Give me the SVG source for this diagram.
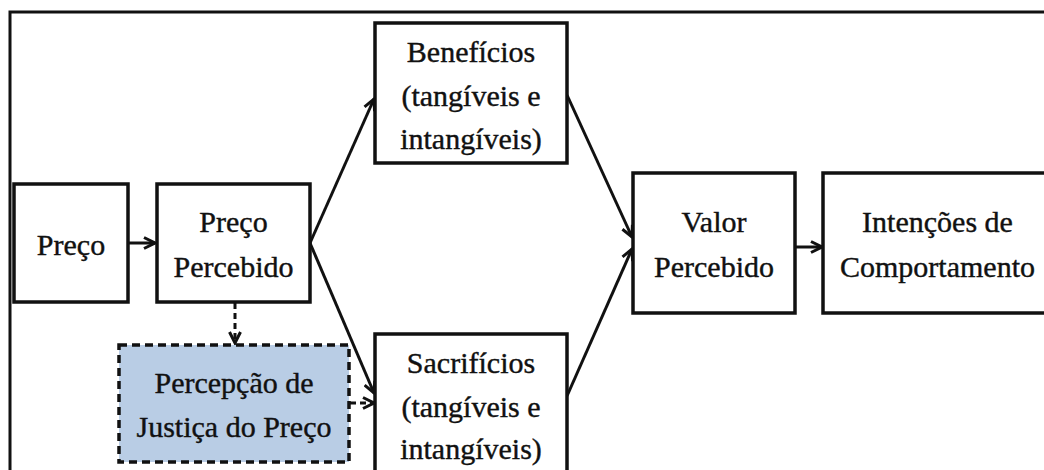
<svg xmlns="http://www.w3.org/2000/svg" width="1044" height="470" viewBox="0 0 1044 470">
<defs>
<style>
.box{fill:#fff;stroke:#111;stroke-width:3.5}
.dash{fill:#b9cde5;stroke:#111;stroke-width:3.5;stroke-dasharray:8 5}
.t{font-family:"Liberation Serif","Times New Roman",serif;font-size:30px;fill:#111;stroke:#111;stroke-width:0.4;text-anchor:middle}
.c{stroke:#111;stroke-width:3;fill:none}
.cd{stroke:#111;stroke-width:3;fill:none;stroke-dasharray:6 4}
</style>
<marker id="ah" viewBox="0 0 14 14" refX="12.5" refY="7" markerWidth="14" markerHeight="14" markerUnits="userSpaceOnUse" orient="auto">
<path d="M1.5,1.5 L12.5,7 L1.5,12.5" fill="none" stroke="#111" stroke-width="3"/>
</marker>
</defs>
<rect x="0" y="0" width="1044" height="470" fill="#fff"/>
<rect x="10" y="12" width="1060" height="480" fill="none" stroke="#111" stroke-width="3"/>
<g id="connectors">
<line class="c" x1="128" y1="243" x2="155" y2="243" marker-end="url(#ah)"/>
<line class="cd" x1="235" y1="303" x2="235" y2="343" marker-end="url(#ah)"/>
<line class="c" x1="310" y1="243" x2="374" y2="99" marker-end="url(#ah)"/>
<line class="c" x1="310" y1="243" x2="374" y2="393" marker-end="url(#ah)"/>
<line class="cd" x1="350" y1="403" x2="374" y2="403" marker-end="url(#ah)"/>
<line class="c" x1="567" y1="95" x2="632" y2="237" marker-end="url(#ah)"/>
<line class="c" x1="567" y1="396" x2="632" y2="249" marker-end="url(#ah)"/>
<line class="c" x1="795" y1="247" x2="822" y2="247" marker-end="url(#ah)"/>
</g>
<g id="preco">
<rect class="box" x="14" y="184" width="114" height="118"/>
<text class="t" x="71" y="255">Preço</text>
</g>
<g id="preco-percebido">
<rect class="box" x="157" y="184" width="153" height="118"/>
<text class="t" x="233.5" y="232">Preço</text>
<text class="t" x="233.5" y="277">Percebido</text>
</g>
<g id="justica">
<rect class="dash" x="119" y="345" width="230" height="117"/>
<text class="t" x="234" y="393">Percepção de</text>
<text class="t" x="234" y="437">Justiça do Preço</text>
</g>
<g id="beneficios">
<rect class="box" x="375" y="23" width="192" height="140"/>
<text class="t" x="471" y="62">Benefícios</text>
<text class="t" x="471" y="106">(tangíveis e</text>
<text class="t" x="471" y="149">intangíveis)</text>
</g>
<g id="sacrificios">
<rect class="box" x="375" y="334" width="192" height="150"/>
<text class="t" x="471" y="373">Sacrifícios</text>
<text class="t" x="471" y="417">(tangíveis e</text>
<text class="t" x="471" y="459">intangíveis)</text>
</g>
<g id="valor">
<rect class="box" x="633" y="173" width="162" height="140"/>
<text class="t" x="714" y="232">Valor</text>
<text class="t" x="714" y="277">Percebido</text>
</g>
<g id="intencoes">
<rect class="box" x="823" y="173" width="230" height="140"/>
<text class="t" x="937.5" y="232">Intenções de</text>
<text class="t" x="937.5" y="277">Comportamento</text>
</g>
</svg>
